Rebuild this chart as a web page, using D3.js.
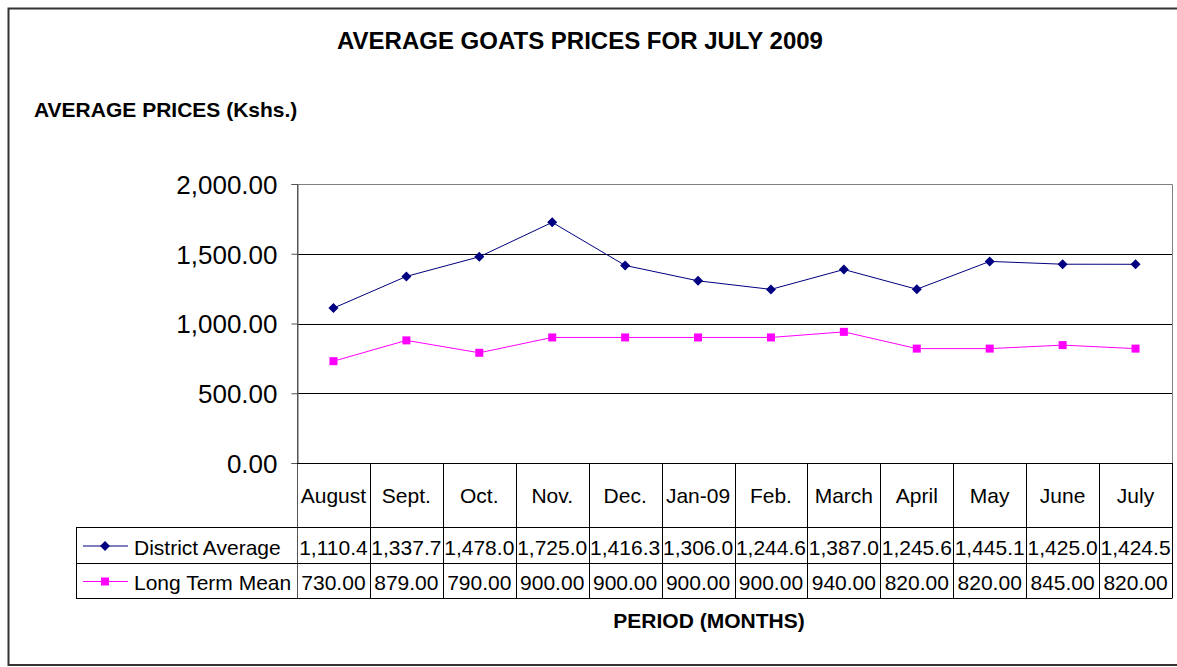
<!DOCTYPE html>
<html><head><meta charset="utf-8">
<script src="https://cdn.jsdelivr.net/npm/d3@7"></script>
<style>
html,body{margin:0;padding:0;background:#fff;}
svg{display:block;font-family:"Liberation Sans",Arial,sans-serif;}
</style></head>
<body>
<svg id="chart" width="1177" height="667"></svg>
<script>
const categories = ["August","Sept.","Oct.","Nov.","Dec.","Jan-09","Feb.","March","April","May","June","July"];
const districtAverage = [1110.4,1337.7,1478.0,1725.0,1416.3,1306.0,1244.6,1387.0,1245.6,1445.1,1425.0,1424.5];
const longTermMean = [730,879,790,900,900,900,900,940,820,820,845,820];
const districtLabels = ["1,110.4","1,337.7","1,478.0","1,725.0","1,416.3","1,306.0","1,244.6","1,387.0","1,245.6","1,445.1","1,425.0","1,424.5"];
const meanLabels = ["730.00","879.00","790.00","900.00","900.00","900.00","900.00","940.00","820.00","820.00","845.00","820.00"];
const yTicks = [0,500,1000,1500,2000];
const seriesNames = ["District Average","Long Term Mean"];

const svg = d3.select("#chart");
const L = 297, R = 1172, T = 184, B = 463;
const rowY = [463, 527, 563, 598];
const legendX = 76;

// outer border
svg.append("rect").attr("x",8.5).attr("y",8.5).attr("width",1180).attr("height",656.5)
  .attr("fill","none").attr("stroke","#333").attr("stroke-width",2);

const x = d3.scaleBand().domain(categories).range([L,R]).padding(0);
const y = d3.scaleLinear().domain([0,2000]).range([B,T]);

// plot area frame (top/right)
svg.append("path").attr("d",`M${L},${T+0.5}H${R+0.5}V${B}`).attr("fill","none").attr("stroke","#808080").attr("stroke-width",1);

// gridlines
svg.append("g").selectAll("line").data(yTicks.filter(d=>d>0 && d<2000)).join("line")
  .attr("x1",L).attr("x2",R).attr("y1",d=>Math.round(y(d))+0.5).attr("y2",d=>Math.round(y(d))+0.5)
  .attr("stroke","#000").attr("stroke-width",1);

// y axis
const yAxis = d3.axisLeft(y).tickValues(yTicks).tickSize(6).tickPadding(14)
  .tickFormat(d=>d3.format(",.2f")(d));
const gy = svg.append("g").attr("transform",`translate(${L+0.5},0)`).call(yAxis);
gy.select(".domain").attr("stroke","#555");
gy.selectAll(".tick line").attr("stroke","#555");
gy.selectAll(".tick text").attr("font-size",26).attr("fill","#000").attr("font-family","Liberation Sans, Arial, sans-serif").attr("dy","0.36em");

// table lines
const tg = svg.append("g").attr("stroke","#000").attr("stroke-width",1);
const bounds = categories.map(c=>x(c)).concat([R]);
bounds.forEach((bx,i)=>{
  tg.append("line").attr("x1",Math.round(bx)+0.5).attr("x2",Math.round(bx)+0.5)
    .attr("y1",i===0?T:B).attr("y2",rowY[3]).attr("stroke", i===0?"#555":"#000");
});
tg.append("line").attr("x1",legendX+0.5).attr("x2",legendX+0.5).attr("y1",rowY[1]).attr("y2",rowY[3]);
tg.append("line").attr("x1",L).attr("x2",R).attr("y1",B+0.5).attr("y2",B+0.5).attr("stroke","#000");
[rowY[1],rowY[2],rowY[3]].forEach(yy=>{
  tg.append("line").attr("x1",legendX).attr("x2",R+0.5).attr("y1",yy+0.5).attr("y2",yy+0.5);
});

// category labels
svg.append("g").selectAll("text").data(categories).join("text")
  .attr("x",d=>x(d)+x.bandwidth()/2).attr("y",(rowY[0]+rowY[1])/2).attr("dy","0.36em")
  .attr("text-anchor","middle").attr("font-size",21).text(d=>d);

// data labels
[districtLabels, meanLabels].forEach((labels,si)=>{
  svg.append("g").selectAll("text").data(labels).join("text")
    .attr("x",(d,i)=>x(categories[i])+x.bandwidth()/2).attr("y",(rowY[si+1]+rowY[si+2])/2+2).attr("dy","0.36em")
    .attr("text-anchor","middle").attr("font-size",21).text(d=>d);
});

// series
const colors = ["#000080","#FF00FF"];
const series = [districtAverage, longTermMean];
const line = d3.line().x((d,i)=>x(categories[i])+x.bandwidth()/2).y(d=>y(d));
series.forEach((vals,si)=>{
  svg.append("path").datum(vals).attr("d",line).attr("fill","none").attr("stroke",colors[si]).attr("stroke-width",1);
  const g = svg.append("g");
  if(si===0){
    g.selectAll("path").data(vals).join("path")
      .attr("d",d3.symbol(d3.symbolSquare, 50))
      .attr("transform",(d,i)=>`translate(${x(categories[i])+x.bandwidth()/2},${y(d)}) rotate(45)`)
      .attr("fill",colors[si]);
  } else {
    g.selectAll("rect").data(vals).join("rect")
      .attr("x",(d,i)=>x(categories[i])+x.bandwidth()/2-4).attr("y",d=>y(d)-4)
      .attr("width",8).attr("height",8).attr("fill",colors[si]);
  }
});

// legend
seriesNames.forEach((name,si)=>{
  const cy = (rowY[si+1]+rowY[si+2])/2+1;
  svg.append("line").attr("x1",83).attr("x2",128).attr("y1",cy).attr("y2",cy).attr("stroke",colors[si]).attr("stroke-width",1);
  if(si===0){
    svg.append("path").attr("d",d3.symbol(d3.symbolSquare,50)).attr("transform",`translate(105,${cy}) rotate(45)`).attr("fill",colors[si]);
  } else {
    svg.append("rect").attr("x",101).attr("y",cy-4).attr("width",8).attr("height",8).attr("fill",colors[si]);
  }
  svg.append("text").attr("x",134).attr("y",cy+1).attr("dy","0.36em").attr("font-size",21).text(name);
});

// titles
svg.append("text").attr("x",580).attr("y",40).attr("dy","0.36em").attr("text-anchor","middle")
  .attr("font-weight","bold").attr("font-size",24).text("AVERAGE GOATS PRICES FOR JULY 2009");
svg.append("text").attr("x",34).attr("y",109).attr("dy","0.36em")
  .attr("font-weight","bold").attr("font-size",21).text("AVERAGE PRICES (Kshs.)");
svg.append("text").attr("x",709).attr("y",620).attr("dy","0.36em").attr("text-anchor","middle")
  .attr("font-weight","bold").attr("font-size",21).text("PERIOD (MONTHS)");
</script>
</body></html>
